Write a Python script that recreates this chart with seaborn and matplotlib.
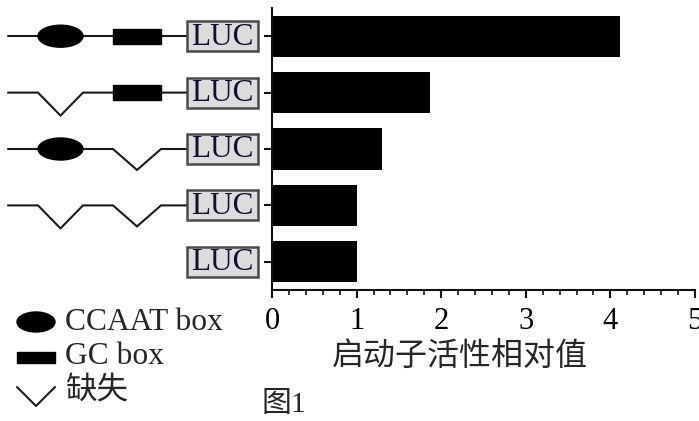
import matplotlib
matplotlib.use("Agg")
import matplotlib.pyplot as plt
from matplotlib.patches import Ellipse, Rectangle
from matplotlib.ticker import MultipleLocator
import seaborn as sns
import pandas as pd

# Promoter constructs (top to bottom) and their relative activities
constructs = ["完整", "缺失CCAAT", "缺失GC", "双缺失", "无启动子"]
slot1 = ["CCAAT", "del", "CCAAT", "del", None]   # first element of each construct
slot2 = ["GC", "GC", "del", "del", None]         # second element of each construct
activity = [4.11, 1.87, 1.30, 1.00, 1.01]
x_ticks = [0, 1, 2, 3, 4, 5]
legend_labels = ["CCAAT box", "GC box", "缺失"]
x_label = "启动子活性相对值"
caption = "图1"

sns.set_theme(style="ticks")
serif = ["Liberation Serif", "Noto Sans CJK SC"]
cjk = ["Noto Sans CJK SC", "DejaVu Sans"]
plt.rcParams["font.family"] = serif

W, H = 699, 421
fig = plt.figure(figsize=(W / 100, H / 100), dpi=100)

# bar chart axes, placed in pixel terms
x0, x1, ytop, ybot = 272, 695, 8, 290
ax = fig.add_axes([x0 / W, 1 - ybot / H, (x1 - x0) / W, (ybot - ytop) / H])
df = pd.DataFrame({"construct": constructs, "activity": activity})
sns.barplot(data=df, x="activity", y="construct", orient="h", color="black",
            width=0.73, saturation=1, edgecolor="black", linewidth=0, ax=ax)
ax.set_xlim(0, 5)
ax.set_ylim(len(constructs) - 0.5, -0.5)
ax.set_xticks(x_ticks)
ax.set_xticklabels([str(t) for t in x_ticks], fontsize=22, family=serif)
ax.xaxis.set_minor_locator(MultipleLocator(0.2))
ax.set_yticklabels([])
ax.set_ylabel("")
ax.set_xlabel(x_label, fontsize=23, family=cjk)
ax.xaxis.set_label_coords((460 - x0) / (x1 - x0), (ybot - 356) / (ybot - ytop))
ax.xaxis.label.set_va("center")
sns.despine(ax=ax)
for s in ("left", "bottom"):
    ax.spines[s].set_linewidth(1.5)
    ax.spines[s].set_color("#111111")
ax.tick_params(axis="x", which="major", direction="out", length=6, width=1.5,
               pad=6, colors="#111111", labelcolor="black")
ax.tick_params(axis="x", which="minor", direction="out", length=3.5, width=1.2,
               colors="#111111")
ax.tick_params(axis="y", which="major", direction="out", length=6, width=1.5,
               colors="#111111")

# overlay in pixel coordinates for the construct schematics and legend
deco = fig.add_axes([0, 0, 1, 1], zorder=-1)
deco.set_xlim(0, W)
deco.set_ylim(H, 0)
deco.axis("off")

def row_y(i):
    disp = ax.transData.transform((0, i))
    return deco.transData.inverted().transform(disp)[1]

lw = 1.5
ink = "#1a1a1a"
slot_x = [(38, 83), (113, 161)]
vee_depth = [23, 21]
line_start, luc_left, luc_right = 8, 187, 258

for i in range(len(constructs)):
    y = row_y(i)
    elems = [slot1[i], slot2[i]]
    if any(e is not None for e in elems):
        xs, ys = [line_start], [y]
        for (a, b), e, d in zip(slot_x, elems, vee_depth):
            if e == "del":
                xs += [a, (a + b) / 2, b]
                ys += [y, y + d, y]
        xs.append(luc_left)
        ys.append(y)
        deco.plot(xs, ys, color=ink, lw=lw, solid_joinstyle="miter", zorder=2)
        for (a, b), e in zip(slot_x, elems):
            if e == "CCAAT":
                deco.add_patch(Ellipse(((a + b) / 2, y), b - a, 22,
                                       color="black", zorder=3))
            elif e == "GC":
                deco.add_patch(Rectangle((a, y - 7.5), b - a, 15,
                                         color="black", zorder=3))
    deco.add_patch(Rectangle((luc_left, y - 15), luc_right - luc_left, 30,
                             facecolor="#dcdcdc", edgecolor="#4a4a4a",
                             lw=1.8, zorder=3))
    deco.text((luc_left + luc_right) / 2, y + 1, "LUC", fontsize=22.5,
              family=serif, ha="center", va="center", color="#111133", zorder=4)

# legend
leg_y = [322, 357, 392]
deco.add_patch(Ellipse((36, leg_y[0]), 38, 20, color="black"))
deco.add_patch(Rectangle((17, leg_y[1] - 5.5), 38, 11, color="black"))
deco.plot([17, 36, 55], [387, 406, 387], color=ink, lw=lw)
for yy, lab in zip(leg_y, legend_labels):
    deco.text(65, yy, lab, fontsize=22.7, family=serif, ha="left", va="center")

deco.text(284, 405, caption, fontsize=21.5, family=serif, ha="center", va="center")

fig.savefig("out.png", dpi=100)
